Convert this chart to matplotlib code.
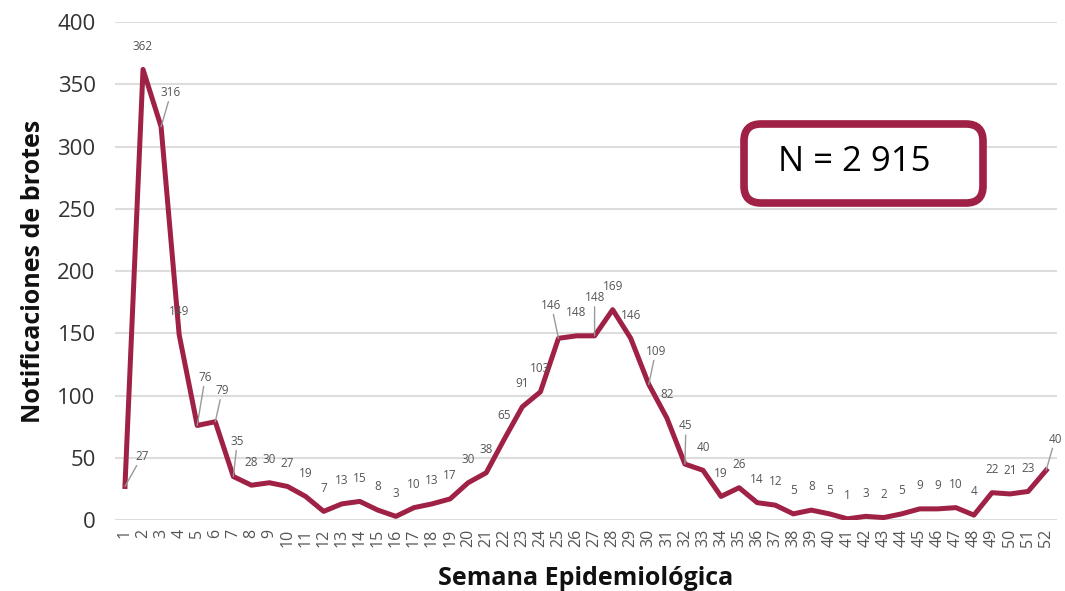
import matplotlib
matplotlib.use("Agg")
import matplotlib.pyplot as plt
from matplotlib.patches import FancyBboxPatch

# Datos por semana epidemiológica
semanas = list(range(1, 53))
brotes = [27, 362, 316, 149, 76, 79, 35, 28, 30, 27, 19, 7, 13, 15, 8, 3, 10, 13, 17, 30,
          38, 65, 91, 103, 146, 148, 148, 169, 146, 109, 82, 45, 40, 19, 26, 14, 12, 5, 8, 5,
          1, 3, 2, 5, 9, 9, 10, 4, 22, 21, 23, 40]
total_texto = "N = 2 915"

color_linea = '#9f2145'
fuente = ['Open Sans', 'DejaVu Sans']
plt.rcParams['font.family'] = fuente

# desplazamientos (pixeles) de etiquetas con linea guia
guias = {1: (17, 21), 3: (10, 25), 5: (8, 39), 6: (7, 22), 7: (4, 26),
         25: (-7, 24), 27: (0, 29), 30: (7, 24), 32: (1, 29), 52: (9, 22)}

fig = plt.figure(figsize=(10.65, 5.91), dpi=100)
ax = fig.add_axes([0.108, 0.120, 0.8845, 0.8426])

ax.plot(semanas, brotes, color=color_linea, lw=3.6, solid_joinstyle='round', zorder=3)

for s, v in zip(semanas, brotes):
    if s in guias:
        dx, dy = guias[s]
        ax.annotate(str(v), xy=(s, v), xytext=(dx * 0.72, dy * 0.72 + 2),
                    textcoords='offset points', ha='center', va='bottom',
                    fontsize=8.5, color='#555555',
                    arrowprops=dict(arrowstyle='-', color='#999999', lw=1,
                                    shrinkA=0, shrinkB=0))
    else:
        ax.annotate(str(v), xy=(s, v), xytext=(0, 12), textcoords='offset points',
                    ha='center', va='bottom', fontsize=8.5, color='#555555')

ax.set_xlim(0.45, 52.6)
ax.set_ylim(0, 400)
ax.set_yticks(range(0, 401, 50))
ax.set_xticks(semanas)
ax.set_xticklabels([str(s) for s in semanas], rotation=90, fontsize=11.5, color='#555555')
ax.tick_params(axis='y', labelsize=16, labelcolor='#333333', length=0, pad=14)
ax.tick_params(axis='x', length=0, pad=6)
ax.grid(axis='y', color='#dddddd', lw=1.5, zorder=0)
ax.set_axisbelow(True)
for sp in ax.spines.values():
    sp.set_visible(False)

ax.set_ylabel('Notificaciones de brotes', fontsize=18, fontweight='bold', color='#111111',
              labelpad=8)
ax.set_xlabel('Semana Epidemiológica', fontsize=18, fontweight='bold', color='#111111',
              labelpad=14)

caja = FancyBboxPatch((0.6986, 0.6565), 0.2244, 0.1337,
                      boxstyle='round,pad=0,rounding_size=0.016',
                      mutation_aspect=1065 / 591, transform=fig.transFigure,
                      facecolor='white', edgecolor=color_linea, lw=5.5, zorder=5)
fig.patches.append(caja)
fig.text(0.802, 0.726, total_texto, fontsize=25, color='black', ha='center', va='center',
         zorder=6)

fig.savefig('out.png', dpi=100)
